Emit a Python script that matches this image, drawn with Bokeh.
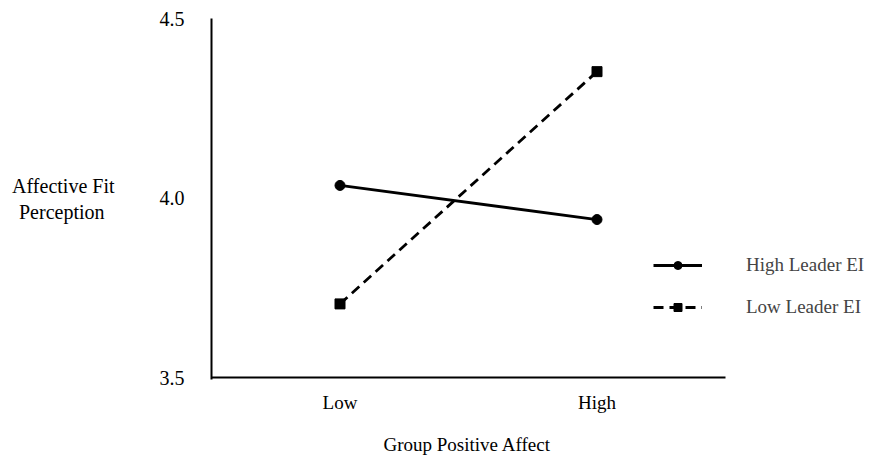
from bokeh.plotting import figure
from bokeh.models import Range1d, Legend, LegendItem, FixedTicker, Title
from bokeh.embed import file_html
from bokeh.resources import INLINE

categories = ["Low", "High"]
cat_pos = [0.5, 1.5]
high_leader = [4.035, 3.94]
low_leader = [3.705, 4.352]
y_ticks = [3.5, 4.0, 4.5]

FONT = "Liberation Serif"

W, H = 867, 467
LEFT, TOP, BOTTOM = 211, 18, 379
PX_PER_CAT = 257.0
PX_PER_Y = 359.0

p = figure(width=W, height=H,
           x_range=Range1d(0, (W - LEFT) / PX_PER_CAT),
           y_range=Range1d(3.5 - (BOTTOM - 377) / PX_PER_Y, 4.5),
           output_backend="svg", toolbar_location=None,
           min_border_left=LEFT, min_border_right=0, min_border_top=TOP,
           min_border_bottom=H - BOTTOM)
p.outline_line_color = None
p.grid.visible = False

# x axis line (ends after the last category)
p.segment(x0=[0], x1=[2.0], y0=[3.5], y1=[3.5], line_color="black", line_width=2)

r1 = p.line(cat_pos, high_leader, line_color="black", line_width=2.8)
m1 = p.scatter(cat_pos, high_leader, marker="circle", size=10, color="black")
r2 = p.line(cat_pos, low_leader, line_color="black", line_width=2.8, line_dash="10 6")
m2 = p.scatter(cat_pos, low_leader, marker="square", size=10, color="black")

for ax in (p.xaxis[0], p.yaxis[0]):
    ax.major_tick_line_color = None
    ax.minor_tick_line_color = None
    ax.major_label_text_font = FONT
    ax.major_label_text_color = "black"
    ax.axis_label_text_font = FONT
    ax.axis_label_text_font_style = "normal"
    ax.axis_label_text_color = "black"

p.xaxis.axis_line_color = None
p.xaxis.ticker = FixedTicker(ticks=cat_pos)
p.xaxis.major_label_overrides = {cat_pos[i]: categories[i] for i in range(len(categories))}
p.xaxis.major_label_text_font_size = "19px"
p.xaxis.major_label_standoff = 6

spacer = Title(text=" ", text_font_size="5px", standoff=0)
p.add_layout(spacer, "below")
xtitle = Title(text="Group Positive Affect", align="left", offset=172, standoff=16,
               text_font=FONT, text_font_size="19px", text_font_style="normal",
               text_color="black")
p.add_layout(xtitle, "below")

p.yaxis.axis_line_color = "black"
p.yaxis.axis_line_width = 2
p.yaxis.ticker = FixedTicker(ticks=y_ticks)
p.yaxis.major_label_overrides = {3.5: "3.5", 4.0: "4.0", 4.5: "4.5"}
p.yaxis.major_label_text_font_size = "20px"
p.yaxis.major_label_standoff = 21
p.yaxis.axis_label = "Affective Fit\nPerception\u00a0\u00a0"
p.yaxis.axis_label_orientation = "horizontal"
p.yaxis.axis_label_text_font_size = "20px"
p.yaxis.axis_label_standoff = 42

legend = Legend(items=[LegendItem(label="High Leader EI", renderers=[r1, m1]),
                       LegendItem(label="Low Leader EI", renderers=[r2, m2])],
                location=(442, 61), border_line_color=None, background_fill_alpha=0,
                label_text_font=FONT, label_text_font_size="19px", glyph_width=49,
                label_standoff=44, spacing=20, padding=0, margin=0)
p.add_layout(legend)

open("out.html", "w").write(file_html(p, INLINE))
